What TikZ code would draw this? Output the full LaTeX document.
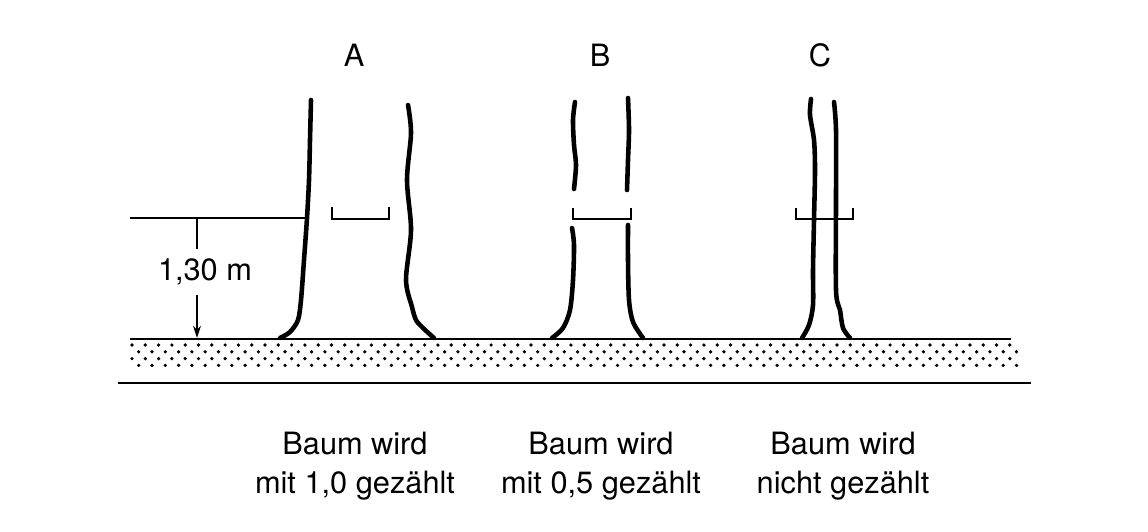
\documentclass[tikz,border=0pt]{standalone}
\usepackage{fontspec}
\setmainfont{TeX Gyre Heros}
\usetikzlibrary{arrows.meta}
\tikzset{
  trunk/.style={
    line width=2.6pt,
    line cap=round,
    line join=round
  },
  thin-line/.style={line width=0.85pt},
  ground-line/.style={line width=1.1pt},
  tree-label/.style={font=\fontsize{17.5}{21}\selectfont, inner sep=0pt},
  caption/.style={font=\fontsize{17.5}{22}\selectfont, align=center, inner sep=0pt}
}

\begin{document}
\begin{tikzpicture}[x=0.02cm, y=-0.02cm]
  \useasboundingbox (0,0) rectangle (1148,531);
  % Ground
  \draw[ground-line] (130,339) -- (1011,339);
  \begin{scope}
    \clip (130,340) rectangle (1018,366);
    \foreach \row in {0,...,3} {
      \pgfmathsetmacro{\shift}{mod(\row,2)*6.7}
      \foreach \col in {0,...,66}
        \fill (132+\shift+\col*13.3, 345+\row*6.8) circle (1.05pt);
    }
  \end{scope}
  \draw[ground-line] (118,383) -- (1031,383);
  % Tree A
  \draw[trunk] plot[smooth] coordinates {(311,100) (310,140) (309,180) (307,218) (304,260) (301,300) (298,320) (290,332) (280,338)};
  \draw[trunk] plot[smooth] coordinates {(408,105) (411,133) (407,180) (411,230) (406,280) (412,307) (416,320) (423,328) (434,338)};
  \draw[thin-line] (332,207) -- (332,219) -- (389,219) -- (389,207);
  % Tree B
  \draw[trunk] plot[smooth] coordinates {(575,102) (573,120) (574,145) (576,165) (574,189)};
  \draw[trunk] plot[smooth] coordinates {(628,98) (629,130) (628,160) (627,190)};
  \draw[trunk] plot[smooth] coordinates {(572,228) (574,245) (573,280) (570,310) (563,328) (552,338)};
  \draw[trunk] plot[smooth] coordinates {(628,225) (628,260) (629,300) (633,322) (643,338)};
  \draw[thin-line] (573,208) -- (573,219) -- (631,219) -- (631,208);
  % Tree C
  \draw[trunk] plot[smooth] coordinates {(811,99) (810,115) (814,140) (815,170) (814,220) (813,270) (813,305) (809,325) (802,338)};
  \draw[trunk] plot[smooth] coordinates {(834,102) (836,130) (836,200) (836,290) (840,310) (843,328) (850,338)};
  \draw[thin-line] (796,208) -- (796,219) -- (853,219) -- (853,208);
  % Measuring height
  \draw[thin-line] (130,218) -- (307,218);
  \coordinate (mark-top) at (197,218);
  \coordinate (mark-foot) at (197,338);
  \node[tree-label, inner ysep=5.5pt] (height) at (205,272) {1,30 m};
  \draw[thin-line] (mark-top) -- (mark-top |- height.north);
  \draw[thin-line, -{Stealth[length=7pt,width=4.5pt]}] (mark-top |- height.south) -- (mark-foot);
  % Labels
  \node[tree-label] (label-a) at (354,55) {A};
  \node[tree-label] (label-b) at (600,55) {B};
  \node[tree-label] (label-c) at (820,55) {C};
  \node[caption] (caption-a) at (355,466) {Baum wird\\mit 1,0 gezählt};
  \node[caption] (caption-b) at (601,466) {Baum wird\\mit 0,5 gezählt};
  \node[caption] (caption-c) at (843,466) {Baum wird\\nicht gezählt};
\end{tikzpicture}
\end{document}
